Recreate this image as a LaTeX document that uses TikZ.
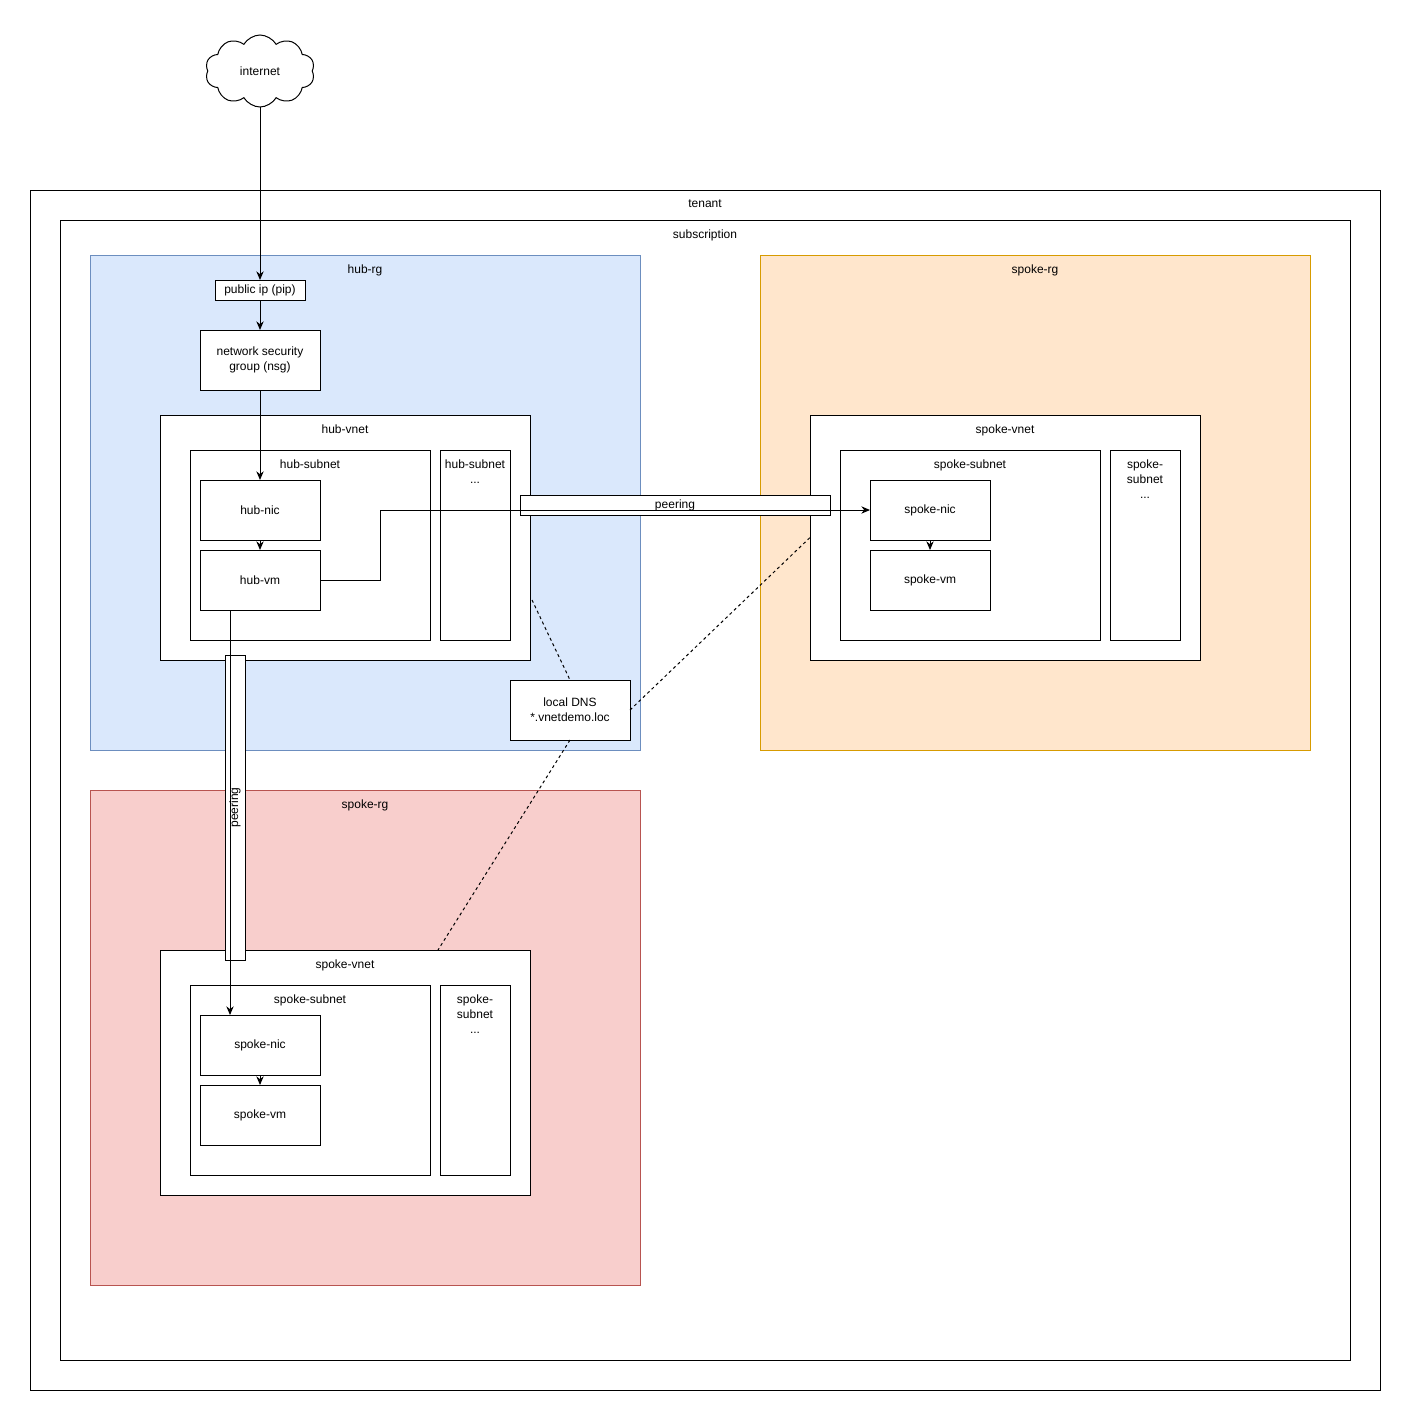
\documentclass[tikz,border=0pt]{standalone}
\usepackage{fontspec}
\setmainfont{Liberation Sans}
\usepackage{xcolor}
\usepackage{tikz}
\usetikzlibrary{shapes.symbols, arrows.meta, positioning, fit, calc}
\definecolor{hubfill}{HTML}{DAE8FC}
\definecolor{hubdraw}{HTML}{6C8EBF}
\definecolor{spkfill}{HTML}{FFE6CC}
\definecolor{spkdraw}{HTML}{D79B00}
\definecolor{redfill}{HTML}{F8CECC}
\definecolor{reddraw}{HTML}{B85450}
\tikzset{
    baseblock/.style={rectangle, draw=black, line width=0.75pt, text centered, font=\fontsize{9}{11.25}\selectfont, inner sep=0pt, outer sep=0pt},
    groupbox/.style={baseblock, fill=white, fit={#1}},
    grouptitle/.style={label={[baseblock, draw=none, fill=none, anchor=north, yshift=-7.3pt, align=center]north:#1}},
    resblock/.style={baseblock, fill=white, minimum width=90pt, minimum height=45pt, align=center},
    peerbox/.style={baseblock, fill=white, minimum height=15pt},
    arrow/.style={line width=0.75pt, -{Stealth[length=6.5pt, width=5.5pt]}, color=black},
    dnsline/.style={line width=0.75pt, dash pattern=on 2.25pt off 2.25pt, color=black}
}

\begin{document}
\begin{tikzpicture}[x=0.75pt, y=-0.75pt]
    \useasboundingbox (0,0) rectangle (1411,1421);

    % outer containers
    \node (tenant) [groupbox={(30,190) (1380,1390)}, grouptitle=tenant] {};
    \node (subscr) [groupbox={(60,220) (1350,1360)}, grouptitle=subscription] {};
    \node (hubrg) [groupbox={(90,255) (640,750)}, fill=hubfill, draw=hubdraw, grouptitle=hub-rg] {};
    \node (spokerga) [groupbox={(760,255) (1310,750)}, fill=spkfill, draw=spkdraw, grouptitle=spoke-rg] {};
    \node (spokergb) [groupbox={(90,790) (640,1285)}, fill=redfill, draw=reddraw, grouptitle=spoke-rg] {};

    % hub side
    \node (internet) [baseblock, cloud, cloud puffs=10, cloud puff arc=120, aspect=1.5, minimum width=82pt, minimum height=54pt] at (260,71) {internet};
    \node (pip) [baseblock, fill=white, minimum width=67.5pt, minimum height=15pt] at (260,290) {public ip (pip)};
    \node (nsg) [resblock] at (260,360) {network security\\group (nsg)};
    \node (hubvnet) [groupbox={(160,415) (530,660)}, grouptitle=hub-vnet] {};
    \node (hubsubnet) [groupbox={(190,450) (430,640)}, grouptitle=hub-subnet] {};
    \node (hubsubnetx) [groupbox={(440,450) (510,640)}, grouptitle={hub-subnet\\...}] {};
    \node (hubnic) [resblock] at (260,510) {hub-nic};
    \node (hubvm) [resblock, below=7.5pt of hubnic] {hub-vm};
    \node (dns) [resblock] at (570,710) {local DNS\\*.vnetdemo.loc};

    % spoke on the right
    \node (spokevneta) [groupbox={(810,415) (1200,660)}, grouptitle=spoke-vnet] {};
    \node (spokesubneta) [groupbox={(840,450) (1100,640)}, grouptitle=spoke-subnet] {};
    \node (spokesubnetax) [groupbox={(1110,450) (1180,640)}, grouptitle={spoke-\\subnet\\...}] {};
    \node (spokenica) [resblock] at (930,510) {spoke-nic};
    \node (spokevma) [resblock, below=7.5pt of spokenica] {spoke-vm};

    % spoke below
    \node (spokevnetb) [groupbox={(160,950) (530,1195)}, grouptitle=spoke-vnet] {};
    \node (spokesubnetb) [groupbox={(190,985) (430,1175)}, grouptitle=spoke-subnet] {};
    \node (spokesubnetbx) [groupbox={(440,985) (510,1175)}, grouptitle={spoke-\\subnet\\...}] {};
    \node (spokenicb) [resblock] at (260,1045) {spoke-nic};
    \node (spokevmb) [resblock, below=7.5pt of spokenicb] {spoke-vm};

    % peerings
    \node (peerh) [peerbox, minimum width=232.5pt] at (675,505) {peering};
    \node (peerv) [peerbox, minimum width=228.75pt, rotate=90] at (235,807.5) {peering};

    \draw [arrow] (internet) -- (pip);
    \draw [arrow] (pip) -- (nsg);
    \draw [arrow] (nsg) -- (hubnic);
    \draw [arrow] (hubnic) -- (hubvm);
    \draw [arrow] (spokenica) -- (spokevma);
    \draw [arrow] (spokenicb) -- (spokevmb);
    \draw [arrow] (hubvm.east) -- ++(60,0) |- (spokenica.west);
    \draw [arrow] ([xshift=-22.5pt]hubvm.south) -- ([xshift=-22.5pt]spokenicb.north);

    \draw [dnsline] ($(hubvnet.south east)+(2,-60)$) -- (dns.north);
    \draw [dnsline] (dns.east) -- (spokevneta.west);
    \draw [dnsline] (dns.south) -- ($(spokevnetb.north)+(93,0)$);
\end{tikzpicture}
\end{document}
